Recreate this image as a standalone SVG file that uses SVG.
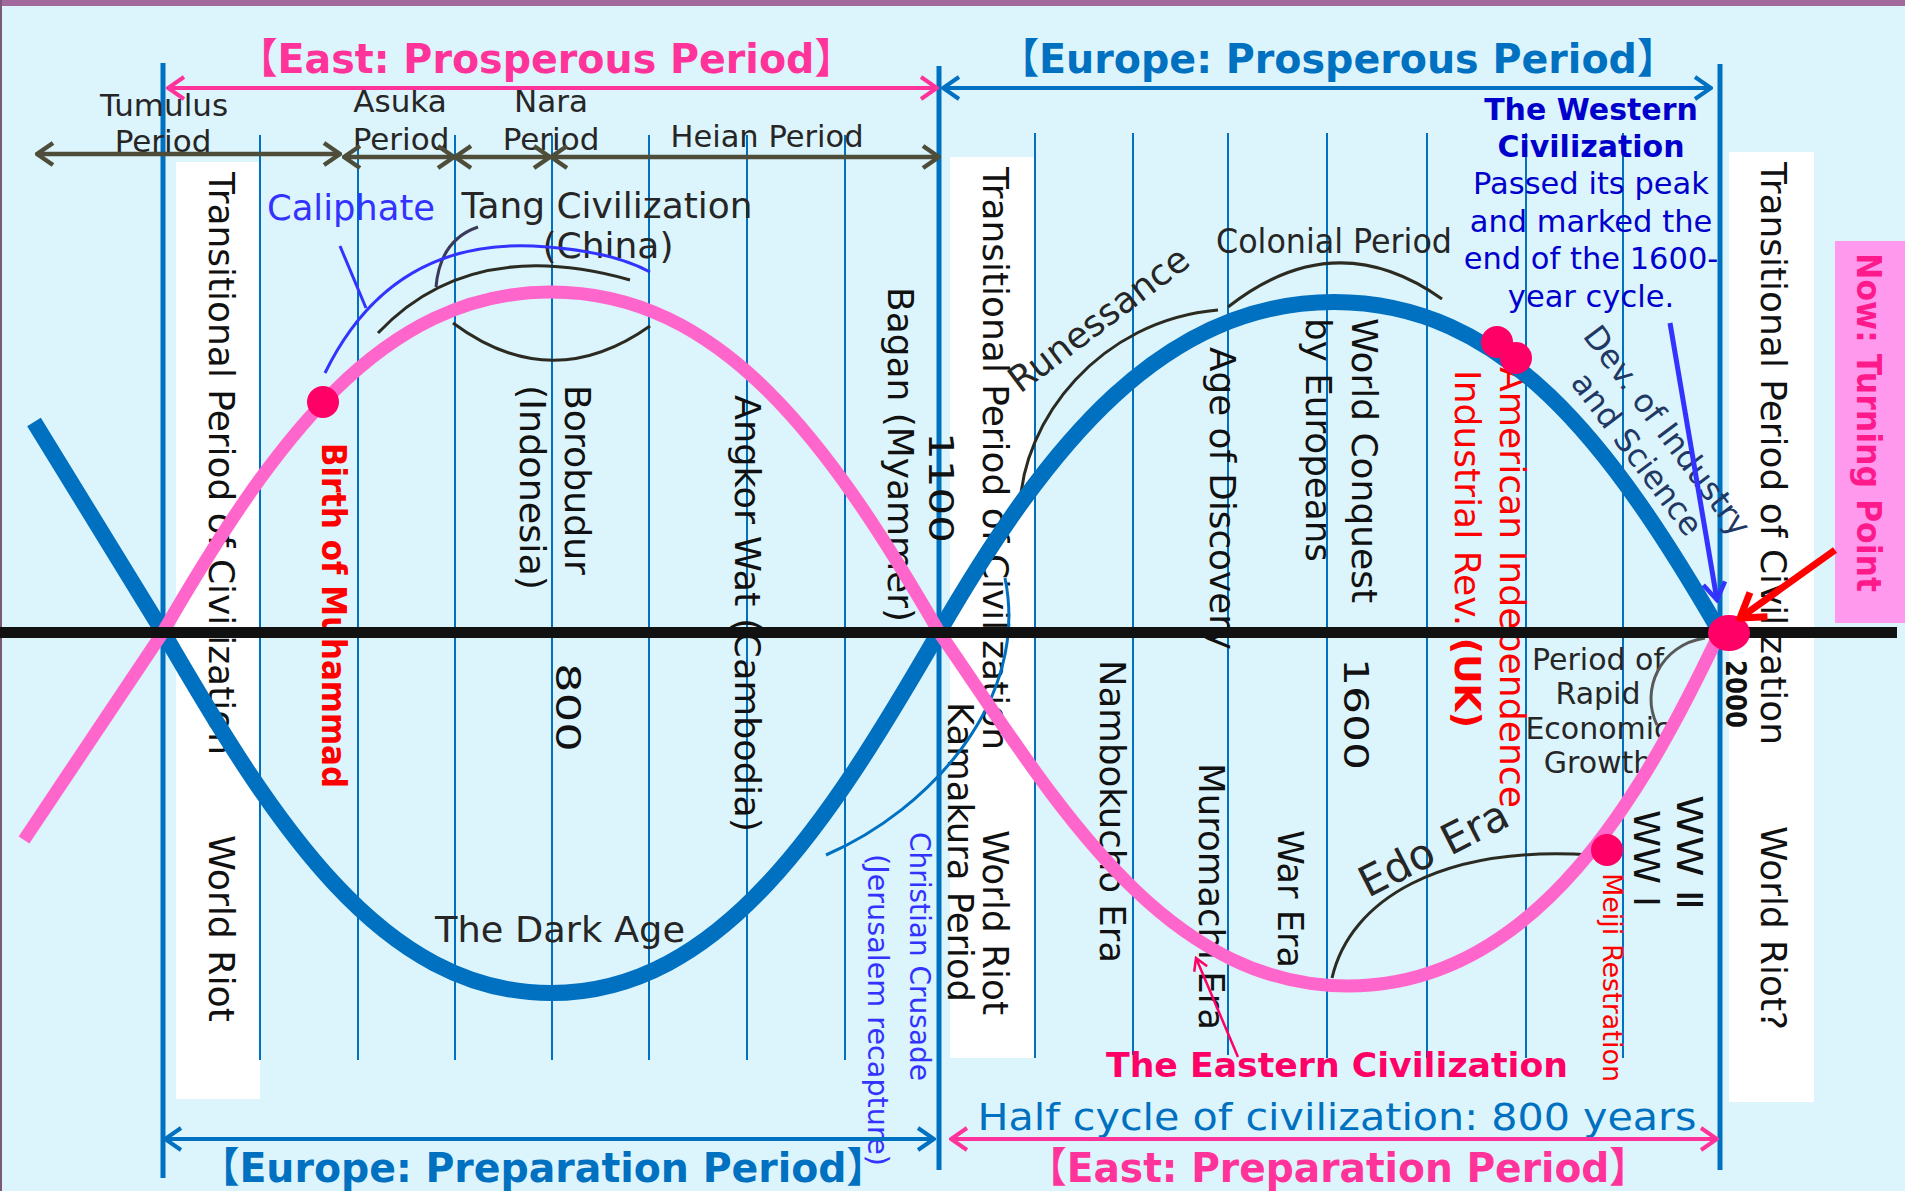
<svg xmlns="http://www.w3.org/2000/svg" width="1905" height="1191" viewBox="0 0 1905 1191">
<style>
.t{font-family:"DejaVu Sans","Noto Sans CJK JP",sans-serif}
.lb{fill:#262626}
.rv{font-size:36px;fill:#111}
.tl{stroke:#0070c0;stroke-width:2}
.vl{stroke:#0070c0;stroke-width:5}
.arc{fill:none;stroke:#2b2b22;stroke-width:3}
.ttl{font-size:41px;font-weight:bold;text-anchor:middle}
</style>
<defs>
<marker id="mPink" viewBox="0 0 20 26" refX="18" refY="13" markerWidth="20" markerHeight="26" markerUnits="userSpaceOnUse" orient="auto-start-reverse"><path d="M2,2 L18,13 L2,24" fill="none" stroke="#ff3399" stroke-width="4"/></marker>
<marker id="mBlue" viewBox="0 0 20 26" refX="18" refY="13" markerWidth="20" markerHeight="26" markerUnits="userSpaceOnUse" orient="auto-start-reverse"><path d="M2,2 L18,13 L2,24" fill="none" stroke="#0070c0" stroke-width="4"/></marker>
<marker id="mOlive" viewBox="0 0 20 26" refX="18" refY="13" markerWidth="20" markerHeight="26" markerUnits="userSpaceOnUse" orient="auto-start-reverse"><path d="M2,2 L18,13 L2,24" fill="none" stroke="#4d4d3a" stroke-width="4.5"/></marker>
<marker id="mRed" viewBox="0 0 30 36" refX="26" refY="18" markerWidth="30" markerHeight="36" markerUnits="userSpaceOnUse" orient="auto"><path d="M3,3 L26,18 L3,33" fill="none" stroke="#ff0000" stroke-width="7"/></marker>
<marker id="mBlue2" viewBox="0 0 22 26" refX="19" refY="13" markerWidth="22" markerHeight="26" markerUnits="userSpaceOnUse" orient="auto"><path d="M2,2 L19,13 L2,24" fill="none" stroke="#3333ff" stroke-width="4.5"/></marker>
<marker id="mCrim" viewBox="0 0 16 18" refX="14" refY="9" markerWidth="16" markerHeight="18" markerUnits="userSpaceOnUse" orient="auto"><path d="M2,2 L14,9 L2,16" fill="none" stroke="#ff0066" stroke-width="2.5"/></marker>
</defs>

<rect width="1905" height="1191" fill="#dcf4fc"/>
<rect width="1905" height="6" fill="#a0689b"/>
<rect width="2" height="1191" fill="#7a5878"/>

<g id="boxes" fill="#fff">
<rect x="176" y="162" width="84" height="937"/>
<rect x="950" y="157" width="85" height="901"/>
<rect x="1729" y="152" width="85" height="950"/>
<rect x="1835" y="241" width="70" height="382" fill="#ff99ee"/>
</g>

<g id="grid">
<g class="tl">
<line x1="260" y1="135" x2="260" y2="1060"/><line x1="358" y1="135" x2="358" y2="1060"/><line x1="455" y1="135" x2="455" y2="1060"/><line x1="552" y1="135" x2="552" y2="1060"/><line x1="649" y1="135" x2="649" y2="1060"/><line x1="747" y1="135" x2="747" y2="1060"/><line x1="845" y1="135" x2="845" y2="1060"/>
<line x1="1035" y1="133" x2="1035" y2="1058"/><line x1="1133" y1="133" x2="1133" y2="1055"/><line x1="1228" y1="133" x2="1228" y2="1055"/><line x1="1327" y1="133" x2="1327" y2="1058"/><line x1="1427" y1="133" x2="1427" y2="1058"/><line x1="1526" y1="133" x2="1526" y2="1058"/><line x1="1623" y1="133" x2="1623" y2="1058"/>
</g>
<g class="vl">
<line x1="163" y1="63" x2="163" y2="1178"/><line x1="939" y1="66" x2="939" y2="1170"/><line x1="1720" y1="64" x2="1720" y2="1170"/>
</g>
</g>

<g id="titles" class="t">
<text class="ttl" x="546" y="73" fill="#ff3399" textLength="616" lengthAdjust="spacingAndGlyphs">【East: Prosperous Period】</text>
<text class="ttl" x="1338" y="73" fill="#0070c0" textLength="677" lengthAdjust="spacingAndGlyphs">【Europe: Prosperous Period】</text>
<text class="ttl" x="543" y="1182" fill="#0070c0" textLength="686" lengthAdjust="spacingAndGlyphs">【Europe: Preparation Period】</text>
<text class="ttl" x="1338" y="1182" fill="#ff3399" textLength="621" lengthAdjust="spacingAndGlyphs">【East: Preparation Period】</text>
<text x="1337" y="1130" font-size="38" fill="#0070c0" text-anchor="middle" textLength="719" lengthAdjust="spacingAndGlyphs">Half cycle of civilization: 800 years</text>
<text x="1337" y="1077" font-size="34" font-weight="bold" fill="#ff0066" text-anchor="middle" textLength="462" lengthAdjust="spacingAndGlyphs">The Eastern Civilization</text>
</g>

<g id="periods" class="t lb" font-size="31" text-anchor="middle">
<text x="164" y="116">Tumulus</text><text x="163" y="152">Period</text>
<text x="400" y="112">Asuka</text><text x="401" y="150">Period</text>
<text x="551" y="112">Nara</text><text x="551" y="150">Period</text>
<text x="767" y="147" textLength="193" lengthAdjust="spacingAndGlyphs">Heian Period</text>
</g>

<g id="labels" class="t">
<text x="351" y="220" font-size="35" fill="#3333ff" text-anchor="middle" textLength="168" lengthAdjust="spacingAndGlyphs">Caliphate</text>
<text x="607" y="218" font-size="35" class="lb" text-anchor="middle" textLength="291" lengthAdjust="spacingAndGlyphs">Tang Civilization</text>
<text x="608" y="258" font-size="35" class="lb" text-anchor="middle" textLength="131" lengthAdjust="spacingAndGlyphs">(China)</text>
<text x="560" y="942" font-size="36" class="lb" text-anchor="middle" textLength="250" lengthAdjust="spacingAndGlyphs">The Dark Age</text>
<text x="1334" y="253" font-size="33" class="lb" text-anchor="middle" textLength="236" lengthAdjust="spacingAndGlyphs">Colonial Period</text>
<text transform="translate(1020,394) rotate(-37)" font-size="36" class="lb">Runessance</text>
<text transform="translate(1368,898) rotate(-27)" font-size="42" class="lb">Edo Era</text>
<g font-size="30" class="lb" text-anchor="middle">
<text x="1598" y="670">Period of</text><text x="1598" y="704">Rapid</text><text x="1598" y="739">Economic</text><text x="1598" y="773">Growth</text>
</g>
<g fill="#0000cc" text-anchor="middle" font-size="30.5">
<text x="1591" y="120" font-weight="bold" font-size="30">The Western</text>
<text x="1591" y="157" font-weight="bold" font-size="30">Civilization</text>
<text x="1591" y="194">Passed its peak</text>
<text x="1591" y="232">and marked the</text>
<text x="1591" y="269">end of the 1600-</text>
<text x="1591" y="307">year cycle.</text>
</g>
<g transform="translate(1582,336) rotate(53)" font-size="32" fill="#1f3864">
<text x="0" y="0">Dev. of Industry</text>
<text x="30" y="38">and Science</text>
</g>
</g>

<g id="vertical-labels" class="t rv">
<text transform="translate(209,172) rotate(90)" textLength="583" lengthAdjust="spacingAndGlyphs">Transitional Period of Civilization</text>
<text transform="translate(209,835) rotate(90)" textLength="187" lengthAdjust="spacingAndGlyphs">World Riot</text>
<text transform="translate(322,443) rotate(90)" font-size="34" font-weight="bold" fill="#ff0000" textLength="345" lengthAdjust="spacingAndGlyphs">Birth of Muhammad</text>
<text transform="translate(565,385) rotate(90)" textLength="190" lengthAdjust="spacingAndGlyphs">Borobudur</text>
<text transform="translate(520,385) rotate(90)" textLength="205" lengthAdjust="spacingAndGlyphs">(Indonesia)</text>
<text transform="translate(556,663) rotate(90)" font-size="34" textLength="89" lengthAdjust="spacingAndGlyphs">800</text>
<text transform="translate(735,395) rotate(90)" textLength="437" lengthAdjust="spacingAndGlyphs">Angkor Wat (Cambodia)</text>
<text transform="translate(888,287) rotate(90)" textLength="335" lengthAdjust="spacingAndGlyphs">Bagan (Myammer)</text>
<text transform="translate(929,432) rotate(90)" font-size="34" textLength="111" lengthAdjust="spacingAndGlyphs">1100</text>
<text transform="translate(983,167) rotate(90)" textLength="583" lengthAdjust="spacingAndGlyphs">Transitional Period of Civilization</text>
<text transform="translate(948,702) rotate(90)" textLength="300" lengthAdjust="spacingAndGlyphs">Kamakura Period</text>
<text transform="translate(983,830) rotate(90)" textLength="185" lengthAdjust="spacingAndGlyphs">World Riot</text>
<text transform="translate(910,832) rotate(90)" font-size="28" fill="#3333ff" textLength="249" lengthAdjust="spacingAndGlyphs">Christian Crusade</text>
<text transform="translate(868,854) rotate(90)" font-size="28" fill="#3333ff" textLength="312" lengthAdjust="spacingAndGlyphs">(Jerusalem recapture)</text>
<text transform="translate(1100,660) rotate(90)" textLength="303" lengthAdjust="spacingAndGlyphs">Nambokucho Era</text>
<text transform="translate(1199,763) rotate(90)" textLength="267" lengthAdjust="spacingAndGlyphs">Muromachi Era</text>
<text transform="translate(1278,830) rotate(90)" textLength="138" lengthAdjust="spacingAndGlyphs">War Era</text>
<text transform="translate(1210,347) rotate(90)" textLength="303" lengthAdjust="spacingAndGlyphs">Age of Discovery</text>
<text transform="translate(1352,318) rotate(90)" textLength="285" lengthAdjust="spacingAndGlyphs">World Conquest</text>
<text transform="translate(1306,318) rotate(90)" textLength="244" lengthAdjust="spacingAndGlyphs">by Europeans</text>
<text transform="translate(1344,658) rotate(90)" font-size="34" textLength="112" lengthAdjust="spacingAndGlyphs">1600</text>
<text transform="translate(1455,370) rotate(90)" fill="#ff0000" textLength="358" lengthAdjust="spacingAndGlyphs">Industrial Rev. <tspan font-weight="bold">(UK)</tspan></text>
<text transform="translate(1500,367) rotate(90)" fill="#ff0000" textLength="441" lengthAdjust="spacingAndGlyphs">American Independence</text>
<text transform="translate(1603,873) rotate(90)" font-size="27" fill="#ff0000" textLength="209" lengthAdjust="spacingAndGlyphs">Meiji Restration</text>
<text transform="translate(1634,810) rotate(90)" textLength="97" lengthAdjust="spacingAndGlyphs">WW Ⅰ</text>
<text transform="translate(1677,795) rotate(90)" textLength="115" lengthAdjust="spacingAndGlyphs">WW Ⅱ</text>
<text transform="translate(1726,660) rotate(90)" font-size="28" font-weight="bold" textLength="68" lengthAdjust="spacingAndGlyphs">2000</text>
<text transform="translate(1761,162) rotate(90)" textLength="583" lengthAdjust="spacingAndGlyphs">Transitional Period of Civilization</text>
<text transform="translate(1761,826) rotate(90)" textLength="204" lengthAdjust="spacingAndGlyphs">World Riot?</text>
<text transform="translate(1857,253) rotate(90)" font-size="34" font-weight="bold" fill="#ff1a8c" textLength="339" lengthAdjust="spacingAndGlyphs">Now: Turning Point</text>
</g>

<g id="connectors">
<g fill="none" stroke-width="4">
<line x1="168" y1="88" x2="937" y2="88" stroke="#ff3399" marker-start="url(#mPink)" marker-end="url(#mPink)"/>
<line x1="943" y1="88" x2="1711" y2="88" stroke="#0070c0" marker-start="url(#mBlue)" marker-end="url(#mBlue)"/>
<line x1="165" y1="1139" x2="934" y2="1139" stroke="#0070c0" marker-start="url(#mBlue)" marker-end="url(#mBlue)"/>
<line x1="951" y1="1139" x2="1717" y2="1139" stroke="#ff3399" marker-start="url(#mPink)" marker-end="url(#mPink)"/>
</g>
<g fill="none" stroke="#4d4d3a" stroke-width="4.5">
<line x1="37" y1="154" x2="340" y2="154" marker-start="url(#mOlive)" marker-end="url(#mOlive)"/>
<line x1="344" y1="157" x2="454" y2="157" marker-start="url(#mOlive)" marker-end="url(#mOlive)"/>
<line x1="455" y1="157" x2="550" y2="157" marker-start="url(#mOlive)" marker-end="url(#mOlive)"/>
<line x1="551" y1="157" x2="939" y2="157" marker-start="url(#mOlive)" marker-end="url(#mOlive)"/>
</g>
<g class="arc">
<path d="M478,227 Q440,240 436,287" stroke="#3a3a5a"/>
<path d="M378,333 Q470,235 630,280"/>
<path d="M453,323 Q551,396 650,326"/>
<path d="M1020,508 C1022,420 1100,320 1218,310"/>
<path d="M1228,307 Q1335,223 1442,299"/>
<path d="M1332,978 C1350,900 1440,845 1592,855"/>
<path d="M1705,638 C1660,645 1640,690 1657,725" stroke="#595959"/>
</g>
<line x1="340" y1="246" x2="366" y2="308" stroke="#3333ff" stroke-width="3"/>
<path d="M325,373 Q390,240 533,246 Q610,250 650,272" fill="none" stroke="#3333ff" stroke-width="3"/>
<path d="M826,855 C930,810 1030,700 1005,578" fill="none" stroke="#0070c0" stroke-width="3"/>
<path id="blue-curve" d="M34,422 L163,632 C273,822 381,993 551,993 C721,993 829,822 939,632 C1049,442 1164,302 1334,302 C1504,302 1610,442 1720,632" fill="none" stroke="#0070c0" stroke-width="16"/>
<path id="pink-curve" d="M24,840 L163,632 C273,442 381,292 551,292 C721,292 829,442 939,632 C1049,790 1158,986 1348,986 C1538,986 1645,790 1722,628" fill="none" stroke="#ff66cc" stroke-width="13"/>
<line x1="0" y1="632.5" x2="1897" y2="632.5" stroke="#111" stroke-width="11"/>
<line x1="1238" y1="1057" x2="1196" y2="958" stroke="#ff0066" stroke-width="2.5" marker-end="url(#mCrim)"/>
<line x1="1670" y1="323" x2="1717" y2="600" stroke="#3333ff" stroke-width="5" marker-end="url(#mBlue2)"/>
</g>

<g id="dots" fill="#ff0066">
<circle cx="323" cy="402" r="16"/>
<circle cx="1497" cy="342" r="16"/>
<circle cx="1516" cy="358" r="16"/>
<circle cx="1607" cy="850" r="16"/>
<ellipse cx="1729" cy="633" rx="21" ry="18"/>
</g>
<line x1="1835" y1="550" x2="1740" y2="618" stroke="#ff0000" stroke-width="7" marker-end="url(#mRed)"/>
</svg>
